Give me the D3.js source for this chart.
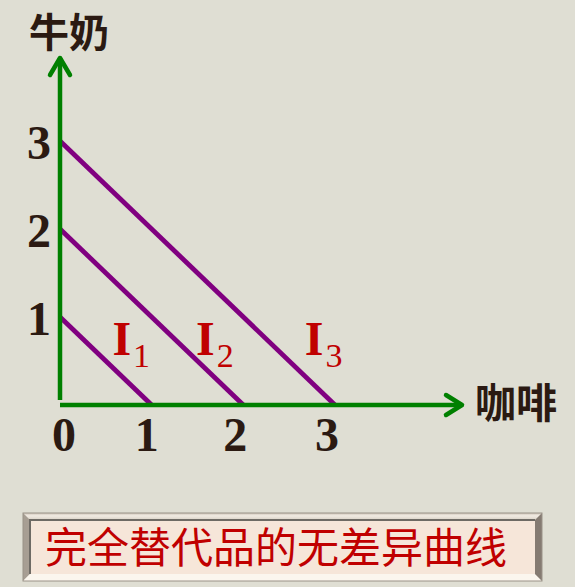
<!DOCTYPE html>
<html><head><meta charset="utf-8">
<script src="https://cdn.jsdelivr.net/npm/d3@7"></script>
<style>html,body{margin:0;padding:0;background:#dfded3;}svg{display:block;}</style>
</head><body>
<script>
// ---- data ----
const curveLevels = [1, 2, 3];              // indifference curves x + y = k
const curveNames = ["I", "I", "I"];
const curveSubs = ["1", "2", "3"];
const xTickValues = [0, 1, 2, 3];
const yTickValues = [1, 2, 3];
const xTitle = "咖啡";
const yTitle = "牛奶";
const caption = "完全替代品的无差异曲线";

// ---- layout ----
const W = 575, H = 587;
const svg = d3.select("body").append("svg").attr("width", W).attr("height", H);
svg.append("rect").attr("width", W).attr("height", H).attr("fill", "#dfded3");

const x = d3.scaleLinear().domain([0, 3]).range([60, 335]);
const y = d3.scaleLinear().domain([0, 3]).range([405, 141]);

const green = "#008000", purple = "#800080", dark = "#2b1a12", red = "#c00000";
const serif = "'Liberation Serif','Times New Roman',serif";
const cjk = "'Noto Sans CJK SC','Noto Sans CJK JP',sans-serif";

// indifference lines
svg.selectAll("line.curve").data(curveLevels).join("line")
  .attr("class", "curve")
  .attr("x1", d => x(0)).attr("y1", d => y(d))
  .attr("x2", d => x(d)).attr("y2", d => y(0))
  .attr("stroke", purple).attr("stroke-width", 4.8);

// axes
const g = svg.append("g").attr("stroke", green).attr("stroke-width", 4.5).attr("fill", "none")
  .attr("stroke-linecap", "round").attr("stroke-linejoin", "round");
g.append("line").attr("x1", x(0)).attr("x2", x(0)).attr("y1", 400).attr("y2", 58).attr("stroke-linecap", "butt");
g.append("path").attr("d", `M${x(0) - 10},75 L${x(0)},58 L${x(0) + 10},75`);
g.append("line").attr("x1", x(0)).attr("x2", 462).attr("y1", y(0)).attr("y2", y(0)).attr("stroke-linecap", "butt");
g.append("path").attr("d", `M446,${y(0) - 10} L462,${y(0)} L446,${y(0) + 10}`);

// tick labels
const xLabelDx = d => (d === 0 ? 4 : d === 1 ? -5 : -8);
svg.selectAll("text.xt").data(xTickValues).join("text")
  .attr("class", "xt")
  .attr("x", d => x(d) + xLabelDx(d)).attr("y", 451)
  .attr("text-anchor", "middle").attr("font-family", serif).attr("font-weight", "bold")
  .attr("font-size", 48).attr("fill", dark).text(d => d);
svg.selectAll("text.yt").data(yTickValues).join("text")
  .attr("class", "yt")
  .attr("x", 39).attr("y", d => y(d) + 18)
  .attr("text-anchor", "middle").attr("font-family", serif).attr("font-weight", "bold")
  .attr("font-size", 48).attr("fill", dark).text(d => d);

// axis titles
svg.append("text").attr("x", 69).attr("y", 47).attr("text-anchor", "middle")
  .attr("font-family", cjk).attr("font-weight", "bold").attr("font-size", 40).attr("fill", dark).text(yTitle);
svg.append("text").attr("x", 516).attr("y", 403).attr("dy", "0.36em").attr("text-anchor", "middle")
  .attr("font-family", cjk).attr("font-weight", "bold").attr("font-size", 41).attr("fill", dark).text(xTitle);

// curve labels
const labelDx = [13, 5, 22];
const labelY = 0.57;
curveLevels.forEach((k, i) => {
  const lx = x(k - labelY) + labelDx[i];
  const t = svg.append("text").attr("x", lx).attr("y", y(labelY))
    .attr("font-family", serif).attr("font-weight", "bold").attr("fill", red);
  t.append("tspan").attr("font-size", 48).text(curveNames[i]);
  t.append("tspan").attr("font-size", 34).attr("font-weight", "normal").attr("dy", 12).attr("dx", 2).text(curveSubs[i]);
});

// caption box (beveled)
const bx0 = 23, bx1 = 542, by0 = 513, by1 = 581, b = 7;
const box = svg.append("g");
const defs = svg.append("defs");
const tg = defs.append("linearGradient").attr("id", "topg").attr("x1", 0).attr("y1", 0).attr("x2", 0).attr("y2", 1);
tg.append("stop").attr("offset", 0).attr("stop-color", "#cfc6ba");
tg.append("stop").attr("offset", 0.4).attr("stop-color", "#f1ebe2");
tg.append("stop").attr("offset", 1).attr("stop-color", "#d9d1c6");
box.append("polygon").attr("points", `${bx0},${by0} ${bx1},${by0} ${bx1 - b},${by0 + b} ${bx0 + b},${by0 + b}`).attr("fill", "url(#topg)");
box.append("polygon").attr("points", `${bx0},${by0} ${bx0 + b},${by0 + b} ${bx0 + b},${by1 - b} ${bx0},${by1}`).attr("fill", "#a79e93");
box.append("polygon").attr("points", `${bx0},${by1} ${bx0 + b},${by1 - b} ${bx1 - b},${by1 - b} ${bx1},${by1}`).attr("fill", "#fbf6ee");
box.append("polygon").attr("points", `${bx1},${by0} ${bx1},${by1} ${bx1 - b},${by1 - b} ${bx1 - b},${by0 + b}`).attr("fill", "#857b72");
box.append("rect").attr("x", bx0 + b).attr("y", by0 + b).attr("width", bx1 - bx0 - 2 * b).attr("height", by1 - by0 - 2 * b).attr("fill", "#f6e6d9");
box.append("path").attr("d", `M${bx0 + b},${by1 - b} L${bx0 + b},${by0 + b} L${bx1 - b},${by0 + b}`).attr("stroke", "#6e6a64").attr("stroke-width", 2).attr("fill", "none");
box.append("rect").attr("x", bx0).attr("y", by0).attr("width", bx1 - bx0).attr("height", by1 - by0).attr("fill", "none").attr("stroke", "#9a9288").attr("stroke-width", 1);

svg.append("text").attr("x", 276).attr("y", 548).attr("dy", "0.36em").attr("text-anchor", "middle")
  .attr("font-family", cjk).attr("font-size", 42).attr("fill", red).text(caption);
</script>
</body></html>
